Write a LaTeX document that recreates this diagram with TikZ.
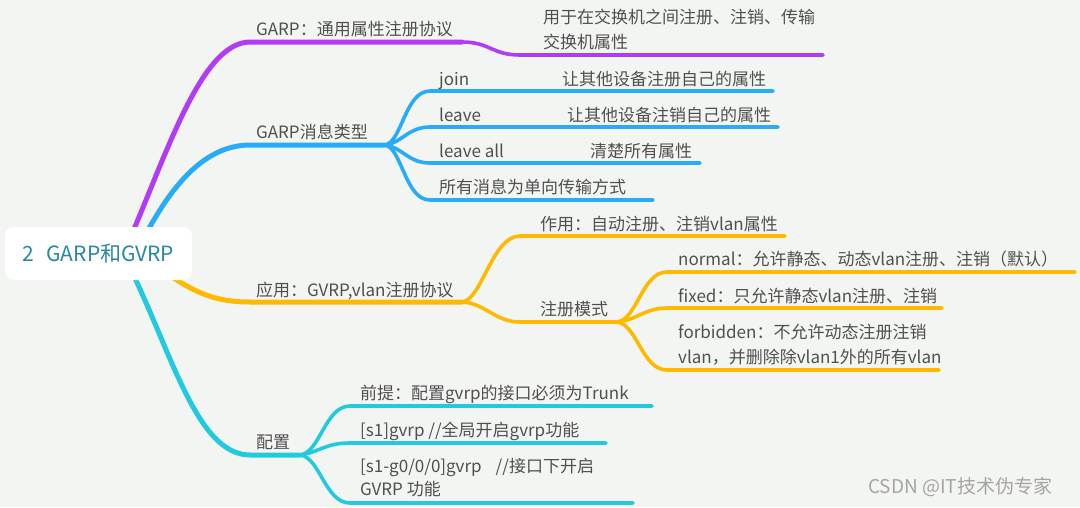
\documentclass[tikz,border=0pt]{standalone}
\usepackage{fontspec}
\setmainfont{Noto Sans CJK SC}
\definecolor{bg}{RGB}{243,245,242}
\definecolor{cpurple}{RGB}{178,60,245}
\definecolor{cblue}{RGB}{40,172,250}
\definecolor{cyellow}{RGB}{255,185,0}
\definecolor{ccyan}{RGB}{34,202,224}
\definecolor{txt}{RGB}{80,80,80}
\definecolor{roottxt}{RGB}{40,135,165}
\definecolor{wmtxt}{RGB}{165,165,165}
\begin{document}
\begin{tikzpicture}[x=1pt,y=-1pt,
  lbl/.style={anchor=base west,inner sep=0pt,text=txt,font=\fontsize{17}{22}\selectfont},
  mainline/.style={line width=5pt,line cap=round},
  subline/.style={line width=3.6pt,line cap=round},
]
\fill[bg] (0,0) rectangle (1080,507);
\useasboundingbox (0,0) rectangle (1080,507);

% ---------- coordinates ----------
\coordinate (p0) at (125,250);
\coordinate (p1) at (250,42);
\coordinate (p2) at (462,42);
\coordinate (p3) at (520,55);
\coordinate (p4) at (823,55);

\coordinate (b0) at (135,255);
\coordinate (b1) at (250,145);
\coordinate (bj) at (385,145);
\coordinate (bA) at (430,91);  \coordinate (bAe) at (773,91);
\coordinate (bB) at (430,127); \coordinate (bBe) at (778,127);
\coordinate (bC) at (430,163); \coordinate (bCe) at (700,163);
\coordinate (bD) at (430,200); \coordinate (bDe) at (653,200);

\coordinate (y0) at (150,262);
\coordinate (y1) at (250,302);
\coordinate (yj) at (462,302);
\coordinate (yA) at (520,236); \coordinate (yAe) at (785,236);
\coordinate (yB) at (520,322); \coordinate (yj2) at (617,322);
\coordinate (yC) at (667,272); \coordinate (yCe) at (1075,272);
\coordinate (yD) at (667,308); \coordinate (yDe) at (942,308);
\coordinate (yE) at (667,370); \coordinate (yEe) at (939,370);

\coordinate (c0) at (125,258);
\coordinate (c1) at (250,455);
\coordinate (cj) at (300,455);
\coordinate (cA) at (350,406); \coordinate (cAe) at (652,406);
\coordinate (cB) at (350,443); \coordinate (cBe) at (606,443);
\coordinate (cC) at (350,503); \coordinate (cCe) at (633,503);

% ---------- purple ----------
\draw[mainline,cpurple] (p0) .. controls (165,160) and (200,42) .. (p1) -- (p2);
\draw[subline,cpurple] (p2) .. controls (490,42) and (492,55) .. (p3) -- (p4);

% ---------- blue ----------
\draw[mainline,cblue] (b0) .. controls (160,205) and (195,145) .. (b1) -- (bj);
\draw[subline,cblue] (bj) .. controls (402,142) and (405,91) .. (bA) -- (bAe);
\draw[subline,cblue] (bj) .. controls (402,143) and (408,127) .. (bB) -- (bBe);
\draw[subline,cblue] (bj) .. controls (402,147) and (408,163) .. (bC) -- (bCe);
\draw[subline,cblue] (bj) .. controls (402,148) and (405,200) .. (bD) -- (bDe);

% ---------- yellow ----------
\draw[mainline,cyellow] (y0) .. controls (190,290) and (210,302) .. (y1) -- (yj);
\draw[subline,cyellow] (yj) .. controls (482,300) and (492,236) .. (yA) -- (yAe);
\draw[subline,cyellow] (yj) .. controls (485,303) and (495,322) .. (yB) -- (yj2);
\draw[subline,cyellow] (yj2) .. controls (637,320) and (642,272) .. (yC) -- (yCe);
\draw[subline,cyellow] (yj2) .. controls (637,320) and (645,308) .. (yD) -- (yDe);
\draw[subline,cyellow] (yj2) .. controls (637,324) and (642,370) .. (yE) -- (yEe);

% ---------- cyan ----------
\draw[mainline,ccyan] (c0) .. controls (170,345) and (195,455) .. (c1) -- (cj);
\draw[subline,ccyan] (cj) .. controls (320,453) and (325,406) .. (cA) -- (cAe);
\draw[subline,ccyan] (cj) .. controls (320,452) and (325,443) .. (cB) -- (cBe);
\draw[subline,ccyan] (cj) .. controls (320,457) and (325,503) .. (cC) -- (cCe);

% ---------- root ----------
\node[fill=white,rounded corners=9pt,minimum width=187pt,minimum height=53pt,
      inner sep=0pt,text=roottxt,font=\fontsize{21}{24}\selectfont] (root) at (98.5,253.5)
      {2\hspace{12pt}GARP和GVRP};

% ---------- labels ----------
\node[lbl] (t1)  at (256,35) {GARP：通用属性注册协议};
\node[lbl] (t1a) at (543,23) {用于在交换机之间注册、注销、传输};
\node[lbl] (t1b) at (543,48) {交换机属性};

\node[lbl] (t2)  at (256,138) {GARP消息类型};
\node[lbl] (t2a) at (439,85) {join};
\node[lbl] (t2a2) at (562,85) {让其他设备注册自己的属性};
\node[lbl] (t2b) at (439,121) {leave};
\node[lbl] (t2b2) at (567,121) {让其他设备注销自己的属性};
\node[lbl] (t2c) at (439,157) {leave all};
\node[lbl] (t2c2) at (590,157) {清楚所有属性};
\node[lbl] (t2d) at (439,193) {所有消息为单向传输方式};

\node[lbl] (t3)  at (256,296) {应用：GVRP,vlan注册协议};
\node[lbl] (t3a) at (540,230) {作用：自动注册、注销vlan属性};
\node[lbl] (t3b) at (540,315) {注册模式};
\node[lbl] (t3c) at (678,265) {normal：允许静态、动态vlan注册、注销（默认）};
\node[lbl] (t3d) at (678,302) {fixed：只允许静态vlan注册、注销};
\node[lbl] (t3e) at (678,338) {forbidden：不允许动态注册注销};
\node[lbl] (t3e2) at (678,363) {vlan，并删除除vlan1外的所有vlan};

\node[lbl] (t4)  at (256,448) {配置};
\node[lbl] (t4a) at (360,399) {前提：配置gvrp的接口必须为Trunk};
\node[lbl] (t4b) at (360,436) {[s1]gvrp //全局开启gvrp功能};
\node[lbl] (t4c) at (360,472) {[s1-g0/0/0]gvrp\hspace{14pt}//接口下开启};
\node[lbl] (t4c2) at (360,495) {GVRP 功能};

\node[anchor=base west,inner sep=0pt,text=wmtxt,font=\fontsize{19}{22}\selectfont] (wm) at (868,493) {CSDN @IT技术伪专家};
\end{tikzpicture}
\end{document}
